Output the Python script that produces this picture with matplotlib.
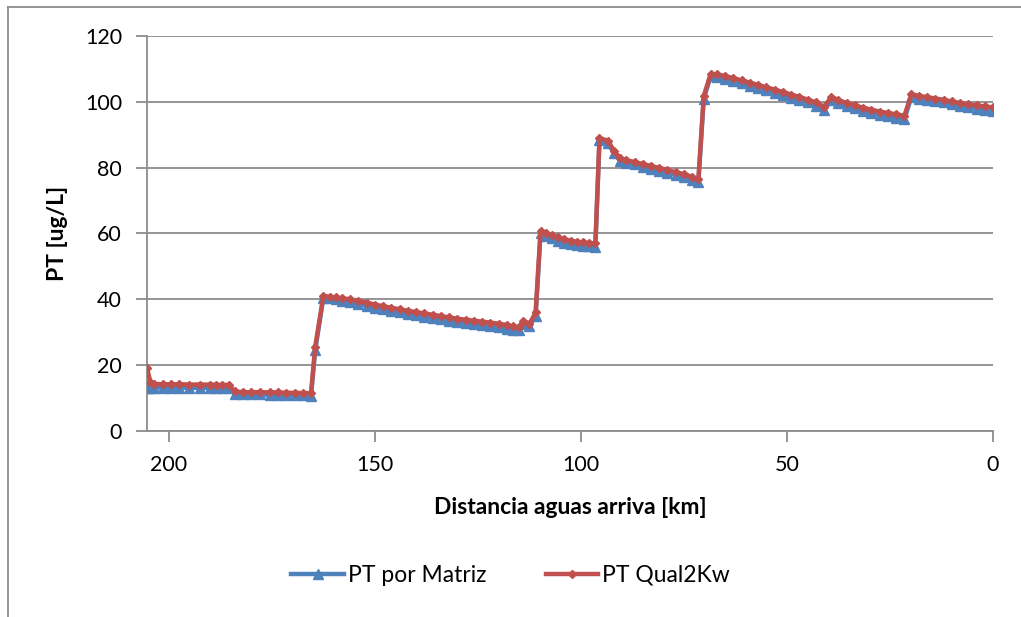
import matplotlib
matplotlib.use("Agg")
import matplotlib.pyplot as plt
from matplotlib.lines import Line2D

plt.rcParams['font.family'] = ['Lato', 'DejaVu Sans']

# Distance upstream (km) and total phosphorus (ug/L)
distancia = [205.3, 204.5, 203.5, 201.5, 199.5, 197.5, 195, 192.5, 190, 188.5, 187, 185.5,
             184, 182, 180, 178, 175.5, 173.5, 171.5, 169.5, 167.5, 165.5,
             164.5, 162.5,
             161, 159.5, 158, 156, 154, 152, 150, 148, 146, 144, 142, 140, 138, 136, 134, 132,
             130, 128, 126, 124, 122, 120, 118, 116.5,
             115, 114, 112.5, 111, 109.8,
             108.5, 107, 105.5, 104, 102.5, 101, 99.5, 98, 96.5,
             95.5, 93.5, 92, 90.5, 89, 87, 85, 83, 81, 79, 77, 75, 73, 71.5,
             70.2, 68.5, 67, 65, 63, 61, 59, 57, 55, 53, 51, 49, 47, 45, 43, 41,
             39.2, 37.5, 35.5, 33.5, 31.5, 29.5, 27.5, 25.5, 23.5, 21.5,
             19.8, 18, 16, 14, 12, 10, 8, 6, 4, 2, 0]

pt_qual2kw = [19.0, 15.0, 14.3, 14.2, 14.2, 14.2, 14.1, 14.1, 14.1, 14.0, 14.0, 14.0,
              12.0, 11.8, 11.8, 11.8, 11.7, 11.7, 11.6, 11.6, 11.5, 11.5,
              25.5, 41.0,
              40.8, 40.6, 40.3, 40.0, 39.5, 39.0, 38.4, 37.9, 37.4, 37.0, 36.5, 36.1, 35.7, 35.3,
              34.9, 34.5, 34.1, 33.8, 33.5, 33.2, 32.9, 32.6, 32.2, 31.8,
              31.5, 33.5, 32.5, 36.0, 60.8,
              60.2, 59.5, 58.8, 58.2, 57.8, 57.5, 57.3, 57.1, 57.0,
              89.0, 88.2, 85.2, 82.8, 82.3, 81.7, 81.1, 80.5, 79.9, 79.3, 78.6, 78.0, 77.2, 76.5,
              101.8, 108.5, 108.3, 107.8, 107.2, 106.5, 105.8, 105.1, 104.4, 103.7, 103.0, 102.2,
              101.5, 100.7, 99.8, 98.5,
              101.5, 100.5, 99.6, 98.9, 98.2, 97.6, 97.0, 96.6, 96.2, 95.8,
              102.3, 101.8, 101.4, 101.0, 100.6, 100.1, 99.6, 99.2, 98.9, 98.6, 98.3]

pt_matriz = [13.2, 13.2, 13.2, 13.2, 13.2, 13.2, 13.1, 13.1, 13.1, 13.1, 13.1, 13.1,
             11.3, 11.2, 11.1, 11.1, 11.0, 11.0, 10.9, 10.9, 10.8, 10.7,
             24.5, 40.5,
             40.3, 40.0, 39.6, 39.2, 38.7, 38.1, 37.5, 37.0, 36.5, 36.0, 35.5, 35.1, 34.7, 34.3,
             33.9, 33.5, 33.1, 32.7, 32.4, 32.1, 31.8, 31.5, 31.1, 30.8,
             30.6, 32.5, 31.8, 35.0, 60.0,
             59.3, 58.5, 57.8, 57.2, 56.8, 56.5, 56.2, 56.1, 55.9,
             88.3, 87.5, 84.5, 82.0, 81.5, 81.0, 80.3, 79.7, 79.1, 78.5, 77.8, 77.2, 76.3, 75.6,
             101.0, 107.8, 107.5, 107.0, 106.3, 105.6, 104.9, 104.2, 103.5, 102.8, 102.1, 101.3,
             100.6, 99.8, 98.8, 97.5,
             100.5, 99.6, 98.7, 98.0, 97.2, 96.6, 96.0, 95.6, 95.2, 94.8,
             101.5, 101.0, 100.6, 100.2, 99.8, 99.3, 98.8, 98.3, 97.9, 97.5, 97.1]

y_ticks = [0, 20, 40, 60, 80, 100, 120]
x_ticks = [200, 150, 100, 50, 0]

BLUE = '#4F81BD'
RED = '#C0504D'
GRID = '#8C8C8C'

fig = plt.figure(figsize=(10.21, 6.17), dpi=100)
ax = fig.add_axes([0.144, 0.3015, 0.8286, 0.6402])

ax.plot(distancia, pt_matriz, color=BLUE, lw=3.2, marker='^', ms=7,
        mfc=BLUE, mec=BLUE, label='PT por Matriz', zorder=3)
ax.plot(distancia, pt_qual2kw, color=RED, lw=3.2, marker='D', ms=4.5,
        mfc=RED, mec=RED, label='PT Qual2Kw', zorder=4)

ax.set_xlim(205.3, 0)
ax.set_ylim(0, 120)
ax.set_yticks(y_ticks)
ax.set_xticks(x_ticks)
ax.yaxis.grid(True, color=GRID, lw=1.3)
ax.set_axisbelow(True)

for side in ('top', 'right'):
    ax.spines[side].set_visible(False)
for side in ('left', 'bottom'):
    ax.spines[side].set_color(GRID)
    ax.spines[side].set_linewidth(1.3)

ax.tick_params(axis='both', direction='out', length=8, width=1.3, color=GRID,
               labelsize=15.5, labelcolor='black')
ax.tick_params(axis='y', pad=10)
ax.tick_params(axis='x', pad=9)

ax.set_xlabel('Distancia aguas arriva [km]', fontsize=16.5, fontweight='bold', labelpad=16)
ax.set_ylabel('PT [ug/L]', fontsize=16.5, fontweight='bold', labelpad=12)

leg = fig.legend(loc='center', bbox_to_anchor=(0.5, 0.068), ncol=2, frameon=False,
                 fontsize=16.5, handlelength=2.3, columnspacing=2.6, handletextpad=0.15)

# Chart-area border (left and top edges)
fig.add_artist(Line2D([8 / 1021, 8 / 1021], [0, 1 - 7 / 617], transform=fig.transFigure,
                      color=GRID, lw=1.3))
fig.add_artist(Line2D([8 / 1021, 1], [1 - 7 / 617, 1 - 7 / 617], transform=fig.transFigure,
                      color=GRID, lw=1.3))

fig.savefig('out.png', dpi=100)
